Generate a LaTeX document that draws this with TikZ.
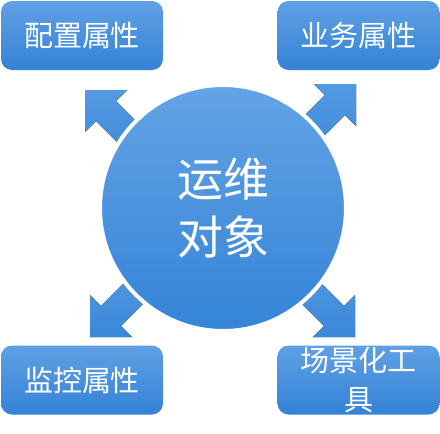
\documentclass[tikz,border=0pt]{standalone}
\usepackage{fontspec}
\newfontfamily\cjk{Noto Sans CJK SC}
\usetikzlibrary{calc}
\definecolor{boxTop}{RGB}{96,160,228}
\definecolor{boxBot}{RGB}{52,130,214}
\definecolor{cirTop}{RGB}{100,163,228}
\definecolor{cirBot}{RGB}{52,132,216}
\definecolor{arrTop}{RGB}{84,154,226}
\definecolor{arrBot}{RGB}{58,136,216}
\newcommand\blockarr[3]{%
  \fill[arrowfill] (#1) -- ++({-42*(#2)},0) -- ++({11.1*(#2)},{-11.1*(#3)})
    -- ++({-45*(#2)},{-45*(#3)}) -- ++({19.8*(#2)},{-19.8*(#3)})
    -- ++({45*(#2)},{45*(#3)}) -- ++({11.1*(#2)},{-11.1*(#3)}) -- cycle;}
\begin{document}
\begin{tikzpicture}[x=1pt,y=-1pt,
  attrbox/.style={rounded corners=11pt, top color=boxTop, bottom color=boxBot,
    minimum width=162pt, minimum height=69pt, text=white, align=center,
    font=\cjk\fontsize{29}{39.5}\selectfont, inner sep=0pt},
  arrowfill/.style={top color=arrTop, bottom color=arrBot},
  core/.style={circle, minimum size=246pt, inner sep=0pt, top color=cirTop,
    bottom color=cirBot, draw=white, line width=4pt, text=white, align=center,
    font=\cjk\fontsize{46}{58.5}\selectfont}]
\useasboundingbox (0,0) rectangle (440,434);
\coordinate (tl) at (85,90);
\coordinate (tr) at (356,84);
\coordinate (bl) at (90,337);
\coordinate (br) at (355,337);
\blockarr{tl}{-1}{-1}
\blockarr{tr}{1}{-1}
\blockarr{bl}{-1}{1}
\blockarr{br}{1}{1}
\node[core] (o) at (223,208) {运维\\对象};
\node[attrbox] (a) at (82,35.5) {配置属性};
\node[attrbox] (b) at (358.5,35.5) {业务属性};
\node[attrbox] (c) at (82,380) {监控属性};
\node[attrbox] (d) at (358.5,380) {场景化工\\具};
\end{tikzpicture}
\end{document}
